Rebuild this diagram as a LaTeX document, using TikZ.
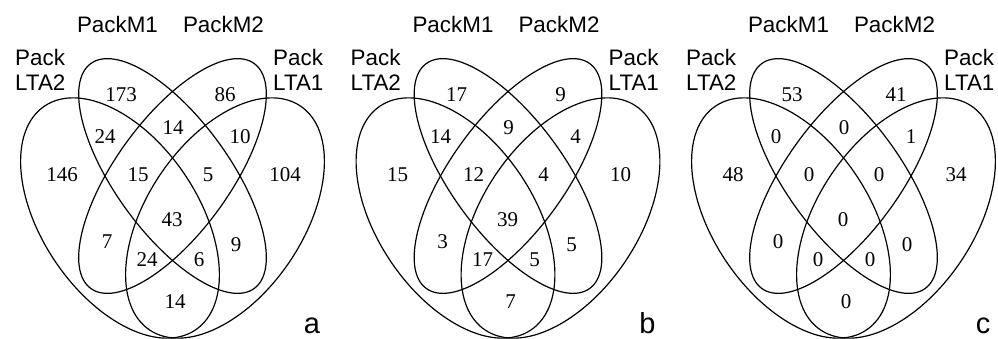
\documentclass[tikz,border=0pt]{standalone}
\usepackage{fontspec}
\setmainfont{Liberation Serif}
\newfontfamily\vennsans{Liberation Sans}
\tikzset{
  setline/.style={draw=black, line width=1.2pt},
  num/.style={font=\fontsize{21}{21}\selectfont, inner sep=0pt},
  lab/.style={font=\vennsans\fontsize{22.4}{25}\selectfont, inner sep=0pt},
  tagtext/.style={font=\vennsans\fontsize{29}{29}\selectfont, inner sep=0pt},
}
\begin{document}
\begin{tikzpicture}[x=1pt,y=1pt]
\useasboundingbox (0,0) rectangle (998,-338);
\foreach \dx/\p/\nA/\nB/\nC/\nD/\nE/\nF/\nG/\nH/\nI/\nJ/\nK/\nL/\nM/\nN/\nO in {
  0/a/173/86/24/14/10/146/15/5/104/43/7/9/24/6/14,
  335.5/b/17/9/14/9/4/15/12/4/10/39/3/5/17/5/7,
  671/c/53/41/0/0/1/48/0/0/34/0/0/0/0/0/0}{
\begin{scope}[xshift=\dx pt]
  % sets
  \draw[setline, rotate around={-56:(120,-218)}] (120,-218) ellipse (135 and 78);
  \draw[setline, rotate around={56:(225,-218)}] (225,-218) ellipse (135 and 78);
  \draw[setline, rotate around={-54:(172.5,-176)}] (172.5,-176) ellipse (139 and 57);
  \draw[setline, rotate around={54:(172.5,-176)}] (172.5,-176) ellipse (139 and 57);
  % labels
  \node[lab, anchor=base] (m1\p) at (117.5,-32) {PackM1};
  \node[lab, anchor=base] (m2\p) at (223.5,-32) {PackM2};
  \node[lab, anchor=base west] (l2a\p) at (15,-65) {Pack};
  \node[lab, anchor=base west] (l2b\p) at (15,-90) {LTA2};
  \node[lab, anchor=base west] (l1a\p) at (273,-65) {Pack};
  \node[lab, anchor=base west] (l1b\p) at (273,-90) {LTA1};
  \node[tagtext, anchor=base] (tag\p) at (312,-333) {\p};
  % counts
  \node[num] (nA\p) at (121,-95) {\nA};
  \node[num] (nB\p) at (225,-95) {\nB};
  \node[num] (nC\p) at (105,-137) {\nC};
  \node[num] (nD\p) at (173,-128) {\nD};
  \node[num] (nE\p) at (240,-137) {\nE};
  \node[num] (nF\p) at (62,-175) {\nF};
  \node[num] (nG\p) at (138,-175) {\nG};
  \node[num] (nH\p) at (208,-175) {\nH};
  \node[num] (nI\p) at (285,-175) {\nI};
  \node[num] (nJ\p) at (172,-220) {\nJ};
  \node[num] (nK\p) at (107,-242) {\nK};
  \node[num] (nL\p) at (236,-245) {\nL};
  \node[num] (nM\p) at (147,-260) {\nM};
  \node[num] (nN\p) at (199,-260) {\nN};
  \node[num] (nO\p) at (175,-302) {\nO};
\end{scope}
}
\end{tikzpicture}
\end{document}
